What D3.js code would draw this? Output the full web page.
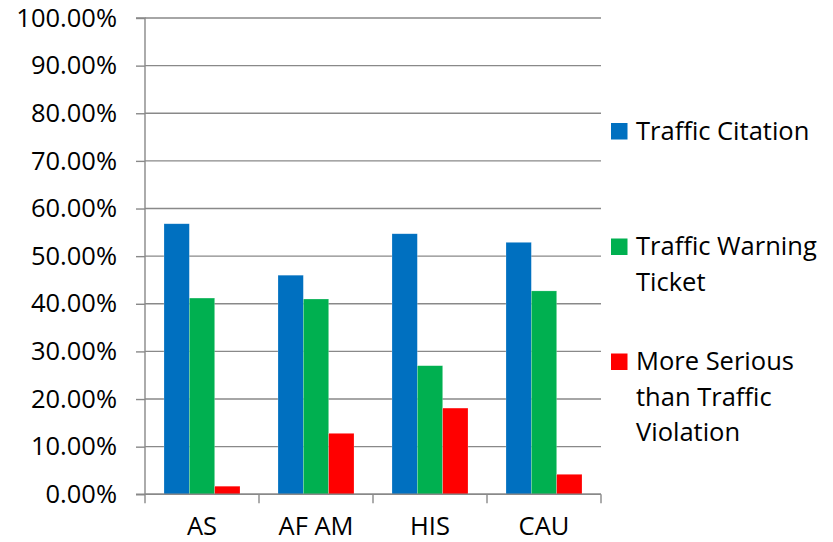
<!DOCTYPE html>
<html>
<head>
<meta charset="utf-8">
<script src="https://cdn.jsdelivr.net/npm/d3@7"></script>
<style>
  html, body { margin: 0; padding: 0; background: #fff; }
  svg { display: block; font-family: "Open Sans", Lato, sans-serif; }
</style>
</head>
<body>
<svg id="chart" width="833" height="542"></svg>
<script>
const categories = ["AS", "AF AM", "HIS", "CAU"];
const seriesNames = ["Traffic Citation", "Traffic Warning Ticket", "More Serious than Traffic Violation"];
const legendLines = [["Traffic Citation"], ["Traffic Warning", "Ticket"], ["More Serious", "than Traffic", "Violation"]];
const trafficCitation = [0.568, 0.460, 0.547, 0.529];
const trafficWarning = [0.412, 0.410, 0.270, 0.427];
const moreSerious = [0.017, 0.128, 0.181, 0.042];
const yTicks = [0, 0.1, 0.2, 0.3, 0.4, 0.5, 0.6, 0.7, 0.8, 0.9, 1.0];
const colors = ["#0070C0", "#00B050", "#FF0000"];

const seriesValues = [trafficCitation, trafficWarning, moreSerious];
const data = categories.map((c, i) => ({cat: c, vals: seriesValues.map((s, j) => ({key: seriesNames[j], v: s[i], j}))}));

const svg = d3.select("#chart");
const m = {left: 145, right: 601, top: 18, bottom: 494.3};
const fontSize = 25.5;
const fontFam = "'Open Sans', Lato, sans-serif";

const y = d3.scaleLinear().domain([0, 1]).range([m.bottom, m.top]);
const x0 = d3.scaleBand().domain(categories).range([m.left, m.right]).padding(0);
const x1 = d3.scaleBand().domain(seriesNames).range([x0.bandwidth() / 6, x0.bandwidth() * 5 / 6]).padding(0);

const gridColor = "#898989";

// gridlines
svg.append("g").selectAll("line").data(yTicks).join("line")
  .attr("x1", m.left).attr("x2", m.right)
  .attr("y1", d => y(d)).attr("y2", d => y(d))
  .attr("stroke", gridColor).attr("stroke-width", 1.4);

// y axis
const yAxis = d3.axisLeft(y).tickValues(yTicks).tickFormat(d3.format(".2%")).tickSize(9).tickPadding(19);
const gy = svg.append("g").attr("transform", `translate(${m.left},0)`).call(yAxis);
gy.select(".domain").attr("stroke", gridColor).attr("stroke-width", 1.4).attr("d", `M-9,${m.top}H0V${m.bottom}H-9`);
gy.selectAll(".tick line").attr("stroke", gridColor).attr("stroke-width", 1.4);
gy.selectAll(".tick text").attr("font-size", fontSize).attr("font-family", fontFam).attr("fill", "#000");

// bars
const groups = svg.append("g").selectAll("g").data(data).join("g")
  .attr("transform", d => `translate(${x0(d.cat)},0)`);
groups.selectAll("rect").data(d => d.vals).join("rect")
  .attr("x", d => x1(d.key))
  .attr("width", x1.bandwidth())
  .attr("y", d => y(d.v))
  .attr("height", d => y(0) - y(d.v))
  .attr("fill", d => colors[d.j])
  .attr("stroke", "rgba(255,255,255,0.35)").attr("stroke-width", 0.6);

// x axis
const xAxis = d3.axisBottom(x0).tickSize(0).tickPadding(0);
const gx = svg.append("g").attr("transform", `translate(0,${m.bottom})`).call(xAxis);
gx.select(".domain").remove();
gx.selectAll(".tick text").attr("font-size", fontSize).attr("font-family", fontFam).attr("fill", "#000").attr("dy", null).attr("y", 40.5);
const bounds = categories.map(c => x0(c)).concat([x0(categories[categories.length - 1]) + x0.bandwidth()]);
gx.append("line").attr("x1", m.left).attr("x2", m.right).attr("y1", 0).attr("y2", 0).attr("stroke", gridColor).attr("stroke-width", 1.4);
gx.selectAll(".bt").data(bounds).join("line").attr("class", "bt")
  .attr("x1", d => d).attr("x2", d => d).attr("y1", 0).attr("y2", 9)
  .attr("stroke", gridColor).attr("stroke-width", 1.4);

// legend
const legendCenters = [131, 246.5, 361.5];
const lineH = 35.5;
const lg = svg.append("g");
legendLines.forEach((lines, i) => {
  const cy = legendCenters[i];
  lg.append("rect").attr("x", 611).attr("y", cy - 8).attr("width", 16.5).attr("height", 16.5).attr("fill", colors[i]);
  lines.forEach((t, k) => {
    lg.append("text").attr("x", 636).attr("y", cy + k * lineH).attr("dy", "0.35em")
      .attr("font-size", fontSize).attr("font-family", fontFam).attr("fill", "#000").text(t);
  });
});
</script>
</body>
</html>
